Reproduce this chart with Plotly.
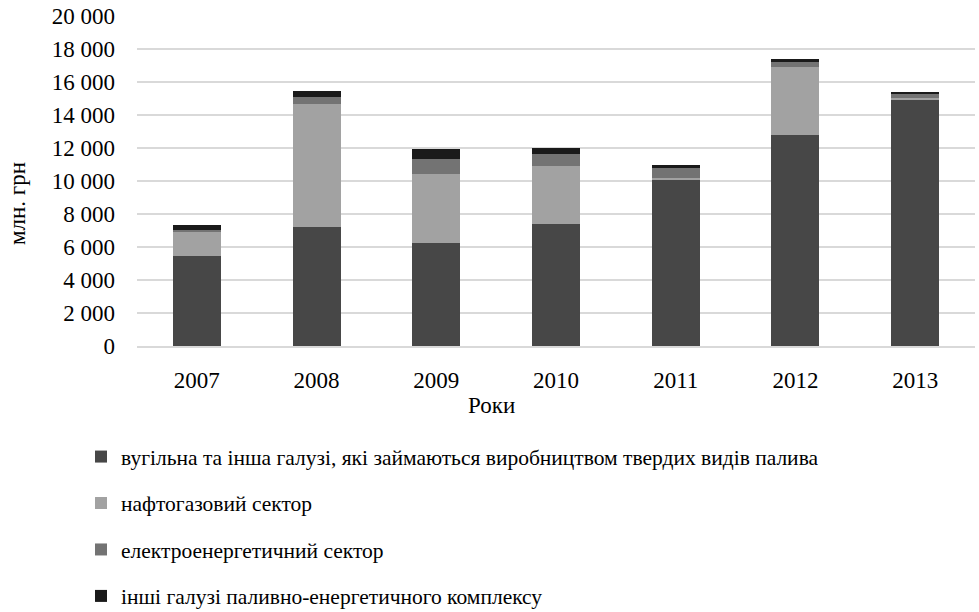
import plotly.graph_objects as go

years = ["2007", "2008", "2009", "2010", "2011", "2012", "2013"]
coal = [5470, 7190, 6220, 7390, 10090, 12780, 14950]
oil_gas = [1480, 7490, 4180, 3500, 120, 4120, 60]
electric = [100, 410, 910, 720, 630, 300, 250]
other = [280, 360, 630, 410, 120, 180, 150]

names = [
    "вугільна та інша галузі, які займаються виробництвом твердих видів палива",
    "нафтогазовий сектор",
    "електроенергетичний сектор",
    "інші галузі паливно-енергетичного комплексу",
]
colors = ["#474747", "#a2a2a2", "#737373", "#1a1a1a"]
series = [coal, oil_gas, electric, other]
x_title = "Роки"
y_title = "млн. грн"

fig = go.Figure()
for i, (n, c, s) in enumerate(zip(names, colors, series)):
    fig.add_trace(go.Bar(x=years, y=s, name=n, marker=dict(color=c, line=dict(width=0)),
                         legendgroup=f"g{i}"))

font = "Liberation Serif, Times New Roman, serif"
fs = 23
lfs = 21.5
fig.update_layout(
    barmode="stack",
    bargap=0.6,
    width=979, height=612,
    margin=dict(l=137, r=4, t=16, b=266, autoexpand=False),
    paper_bgcolor="white", plot_bgcolor="white",
    font=dict(family=font, size=fs, color="#000000"),
    separators=". ",
    xaxis=dict(showline=True, linecolor="#d9d9d9", linewidth=1.5, ticks="",
               ticklabelstandoff=13, tickfont=dict(family=font, size=fs)),
    yaxis=dict(range=[0, 20000], dtick=2000, tickformat=",d",
               showgrid=True, gridcolor="#d9d9d9", gridwidth=1.5,
               zeroline=False, ticks="", ticklabelstandoff=21,
               tickfont=dict(family=font, size=fs)),
    legend=dict(orientation="v", x=-0.0668, xanchor="left", y=-0.273, yanchor="top",
                traceorder="grouped", tracegroupgap=15.5, font=dict(family=font, size=lfs),
                itemwidth=30),
    showlegend=True,
    annotations=[
        dict(text=x_title, xref="paper", yref="paper", x=0.4236, y=-0.1818,
             xanchor="center", yanchor="middle", showarrow=False,
             font=dict(family=font, size=fs)),
        dict(text=y_title, xref="paper", yref="paper", x=-0.1432, y=0.433,
             xanchor="center", yanchor="middle", showarrow=False, textangle=-90,
             font=dict(family=font, size=fs)),
    ],
)

fig.write_html("out.html", config={"displayModeBar": False},
               post_script="document.body.style.margin='0';")
